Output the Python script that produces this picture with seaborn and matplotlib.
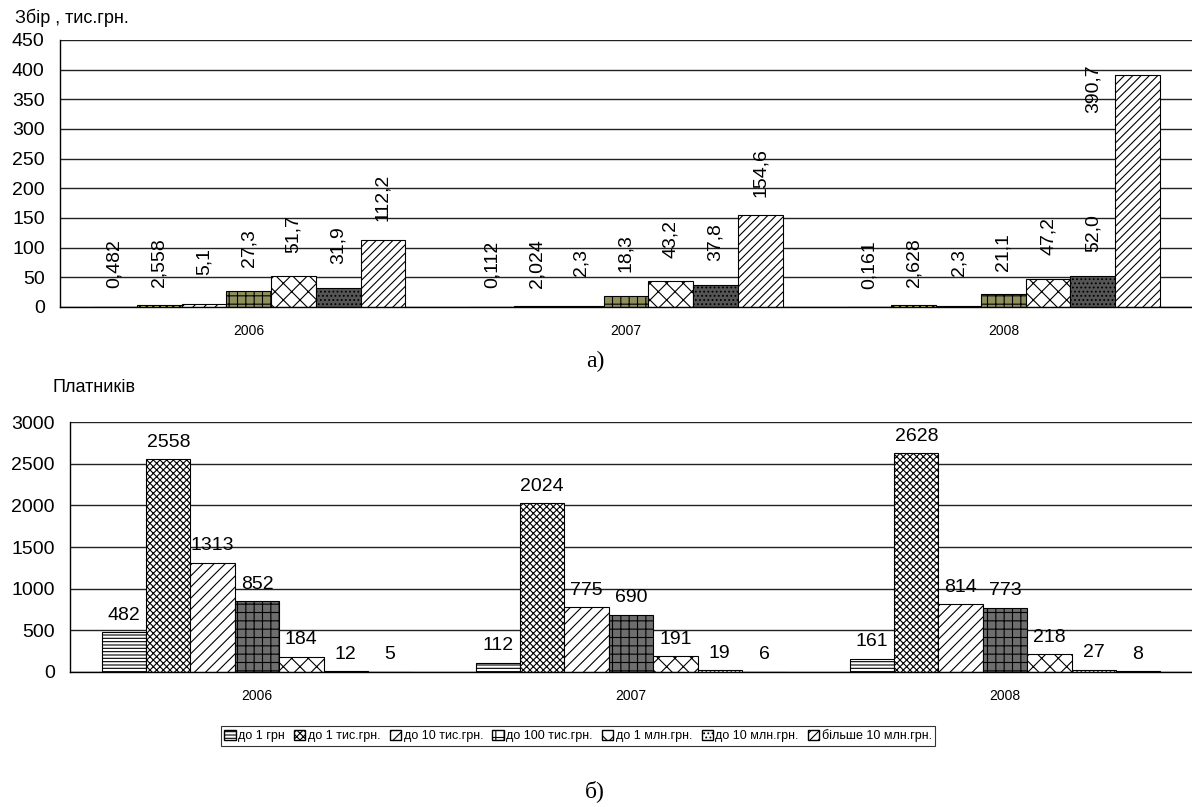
import pandas as pd
import matplotlib.pyplot as plt
import seaborn as sns
from matplotlib.patches import Patch

# Data
years = ['2006', '2007', '2008']
categories = ['до 1 грн', 'до 1 тис.грн.', 'до 10 тис.грн.', 'до 100 тис.грн.',
              'до 1 млн.грн.', 'до 10 млн.грн.', 'більше 10 млн.грн.']

# a) збір, тис.грн.
rev_1 = [0.482, 0.112, 0.161]
rev_1k = [2.558, 2.024, 2.628]
rev_10k = [5.1, 2.3, 2.3]
rev_100k = [27.3, 18.3, 21.1]
rev_1m = [51.7, 43.2, 47.2]
rev_10m = [31.9, 37.8, 52.0]
rev_over = [112.2, 154.6, 390.7]
rev_decimals = [3, 3, 1, 1, 1, 1, 1]

# б) кількість платників
pay_1 = [482, 112, 161]
pay_1k = [2558, 2024, 2628]
pay_10k = [1313, 775, 814]
pay_100k = [852, 690, 773]
pay_1m = [184, 191, 218]
pay_10m = [12, 19, 27]
pay_over = [5, 6, 8]

rev_series = [rev_1, rev_1k, rev_10k, rev_100k, rev_1m, rev_10m, rev_over]
pay_series = [pay_1, pay_1k, pay_10k, pay_100k, pay_1m, pay_10m, pay_over]


def long_form(series):
    rows = []
    for cat, vals in zip(categories, series):
        for yr, v in zip(years, vals):
            rows.append({'year': yr, 'category': cat, 'value': v})
    return pd.DataFrame(rows)


rev_df = long_form(rev_series)
pay_df = long_form(pay_series)

# hatch patterns per category (Excel fill imitation)
hatches = ['-----', 'xxxxx', '///', '++', 'xx', '....', '////']
top_faces = ['white', '#d6cc5c', 'white', '#8f8f5e', 'white', '#555555', 'white']
bottom_faces = ['white', 'white', 'white', '#6e6e6e', 'white', 'white', '#333333']

sns.set_style('white')
plt.rcParams['font.family'] = ['Liberation Sans', 'DejaVu Sans']
plt.rcParams['hatch.linewidth'] = 0.8
plt.rcParams['text.color'] = 'black'
plt.rcParams['xtick.color'] = 'black'
plt.rcParams['ytick.color'] = 'black'

fig = plt.figure(figsize=(11.92, 8.07), dpi=100)
ax1 = fig.add_axes([60 / 1192, 1 - 307 / 807, (1192 - 60) / 1192, 267 / 807])
ax2 = fig.add_axes([70 / 1192, 1 - 672 / 807, (1192 - 70) / 1192, 250 / 807])

white_pal = {c: 'white' for c in categories}
sns.barplot(data=rev_df, x='year', y='value', hue='category', hue_order=categories,
            palette=white_pal, width=0.83, errorbar=None, legend=False, ax=ax1)
sns.barplot(data=pay_df, x='year', y='value', hue='category', hue_order=categories,
            palette=white_pal, width=0.83, errorbar=None, legend=False, ax=ax2)

for ax, faces in ((ax1, top_faces), (ax2, bottom_faces)):
    for i, cont in enumerate(ax.containers):
        for bar in cont:
            bar.set_facecolor(faces[i])
            bar.set_edgecolor('black')
            bar.set_hatch(hatches[i])
            bar.set_linewidth(0.8)

# labels, top chart: rotated, above bars
for i, cont in enumerate(ax1.containers):
    for j, bar in enumerate(cont):
        v = rev_series[i][j]
        x = bar.get_x() + bar.get_width() / 2
        y = v + 72
        if y > 400:
            # no room above the bar: put it beside, like Excel does
            y = v - 22
            x -= bar.get_width()
        txt = f"{v:.{rev_decimals[i]}f}".replace('.', ',')
        ax1.text(x, y, txt, rotation=90, ha='center', va='center', fontsize=14)

# labels, bottom chart
for i, cont in enumerate(ax2.containers):
    for j, bar in enumerate(cont):
        v = pay_series[i][j]
        ax2.annotate(str(v), (bar.get_x() + bar.get_width() / 2, v),
                     xytext=(0, 6), textcoords='offset points',
                     ha='center', va='bottom', fontsize=14)

for ax, top, step in ((ax1, 450, 50), (ax2, 3000, 500)):
    ax.set_ylim(0, top)
    ax.set_yticks(range(0, top + 1, step))
    ax.set_xlim(-0.5, 2.5)
    ax.set_xlabel('')
    ax.set_ylabel('')
    ax.yaxis.grid(True, color='#222222', linewidth=1)
    ax.set_axisbelow(True)
    for s in ('top', 'right'):
        ax.spines[s].set_visible(False)
    for s in ('left', 'bottom'):
        ax.spines[s].set_color('black')
        ax.spines[s].set_linewidth(1)
    ax.tick_params(axis='y', direction='out', length=5, width=1, color='black',
                   labelsize=14, pad=6)
    ax.tick_params(axis='x', which='major', length=0, labelsize=10, pad=12)
    ax.set_xticks([0.5, 1.5], minor=True)
    ax.tick_params(axis='x', which='minor', direction='out', length=5, width=1,
                   color='black')

fig.text(15 / 1192, 1 - 18 / 807, 'Збір , тис.грн.', fontsize=13, va='center')
fig.text(52 / 1192, 1 - 388 / 807, 'Платників', fontsize=13, va='center')
fig.text(595 / 1192, 1 - 361 / 807, 'а)', fontsize=17, ha='center', va='center',
         family=['Liberation Serif', 'DejaVu Serif'])
fig.text(595 / 1192, 1 - 791 / 807, 'б)', fontsize=17, ha='center', va='center',
         family=['Liberation Serif', 'DejaVu Serif'])

handles = [Patch(facecolor='white', edgecolor='black', hatch=hatches[i], label=c)
           for i, c in enumerate(categories)]
leg = fig.legend(handles=handles, loc='center', bbox_to_anchor=(578 / 1192, 1 - 736 / 807),
                 ncol=7, fontsize=9, frameon=True, fancybox=False, handlelength=0.9,
                 handleheight=0.9, handletextpad=0.2, columnspacing=0.75,
                 borderpad=0.25, borderaxespad=0)
leg.get_frame().set_edgecolor('black')
leg.get_frame().set_linewidth(0.8)

fig.savefig('out.png', dpi=100)
